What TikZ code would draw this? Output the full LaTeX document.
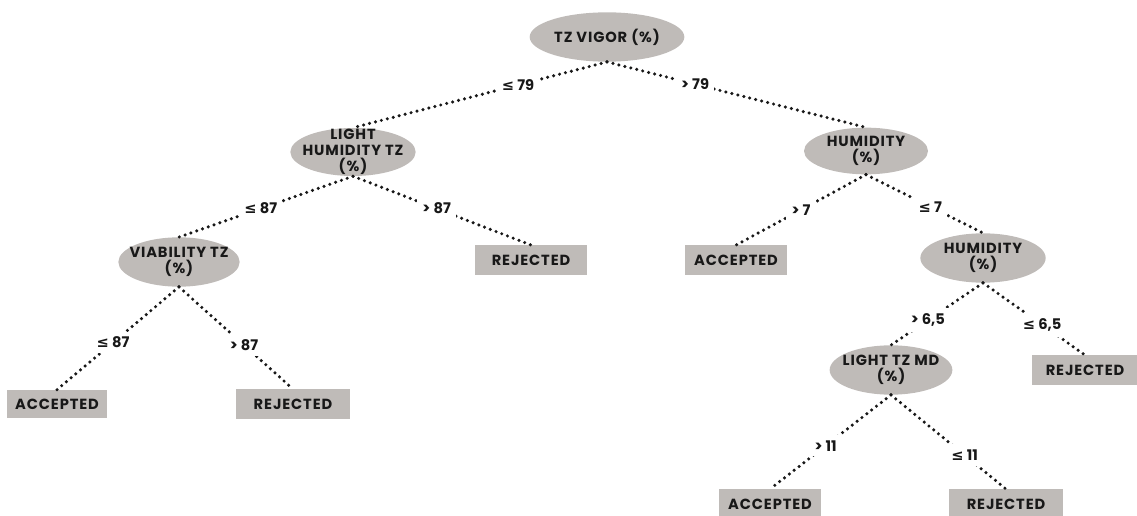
\documentclass[tikz,border=0pt]{standalone}
\usepackage{fontspec}
\setmainfont{Poppins}
\newfontfamily\symfont{DejaVu Sans}
\usetikzlibrary{shapes.geometric}

\definecolor{nodegray}{RGB}{191,187,184}
\definecolor{inkblack}{RGB}{24,24,24}
\newcommand{\leqsym}{{\symfont\bfseries ≤}}
\newcommand{\nodefont}{\fontsize{11}{11.8}\selectfont\bfseries\addfontfeature{LetterSpace=6}}
\newcommand{\condfont}{\fontsize{11}{12}\selectfont\bfseries}

\tikzset{
  split/.style={ellipse, fill=nodegray, inner sep=-14pt, align=center, text=inkblack, font=\nodefont},
  leaf/.style={rectangle, fill=nodegray, inner sep=0pt, text=inkblack, font=\nodefont},
  branch/.style={line width=2.6pt, dash pattern=on 0pt off 4.6pt, line cap=round, draw=inkblack},
  cond/.style={fill=white, inner sep=4pt, text=inkblack, font=\condfont}
}

\begin{document}
\begin{tikzpicture}[x=0.75pt,y=-0.75pt]
\useasboundingbox (0,0) rectangle (1137,516);

% decision nodes
\node[split, minimum width=116pt, minimum height=37pt] (vigor) at (607,37) {TZ VIGOR (\%)};
\node[split, minimum width=94pt, minimum height=36pt] (lighthum) at (353,152) {LIGHT\\HUMIDITY TZ\\(\%)};
\node[split, minimum width=93pt, minimum height=35pt] (hum) at (866,151) {HUMIDITY\\(\%)};
\node[split, minimum width=91pt, minimum height=37pt] (viab) at (179,262) {VIABILITY TZ\\(\%)};
\node[split, minimum width=94pt, minimum height=37pt] (humlow) at (983,258) {HUMIDITY\\(\%)};
\node[split, minimum width=92pt, minimum height=37pt] (lighttz) at (891,370) {LIGHT TZ MD\\(\%)};

% leaves
\node[leaf, minimum width=84pt, minimum height=22pt] (rej1) at (531,260) {REJECTED};
\node[leaf, minimum width=77pt, minimum height=22pt] (acc1) at (736,260) {ACCEPTED};
\node[leaf, minimum width=75pt, minimum height=21pt] (acc2) at (57,404) {ACCEPTED};
\node[leaf, minimum width=85pt, minimum height=22pt] (rej2) at (293,404) {REJECTED};
\node[leaf, minimum width=79pt, minimum height=22pt] (rej3) at (1085,370) {REJECTED};
\node[leaf, minimum width=77pt, minimum height=22pt] (acc3) at (770,504) {ACCEPTED};
\node[leaf, minimum width=86pt, minimum height=22pt] (rej4) at (1006,504) {REJECTED};

% branches
\draw[branch] (vigor.south) -- node[cond, pos=.35] {\leqsym{} 79} (lighthum.north);
\draw[branch] (vigor.south) -- node[cond, pos=.34] {> 79} (hum.north);
\draw[branch] (lighthum.south) -- node[cond, pos=.53] {\leqsym{} 87} (viab.north);
\draw[branch] (lighthum.south) -- node[cond, pos=.47] {> 87} (rej1.north);
\draw[branch] (hum.south) -- node[cond, pos=.5] {> 7} (acc1.north);
\draw[branch] (hum.south) -- node[cond, pos=.55] {\leqsym{} 7} (humlow.north);
\draw[branch] (viab.south) -- node[cond, pos=.54] {\leqsym{} 87} (acc2.north);
\draw[branch] (viab.south) -- node[cond, pos=.57] {> 87} (rej2.north);
\draw[branch] (humlow.south) -- node[cond, pos=.6] {> 6,5} (lighttz.north);
\draw[branch] (humlow.south) -- node[cond, pos=.58] {\leqsym{} 6,5} (rej3.north);
\draw[branch] (lighttz.south) -- node[cond, pos=.54] {> 11} (acc3.north);
\draw[branch] (lighttz.south) -- node[cond, pos=.64] {\leqsym{} 11} (rej4.north);
\end{tikzpicture}
\end{document}
